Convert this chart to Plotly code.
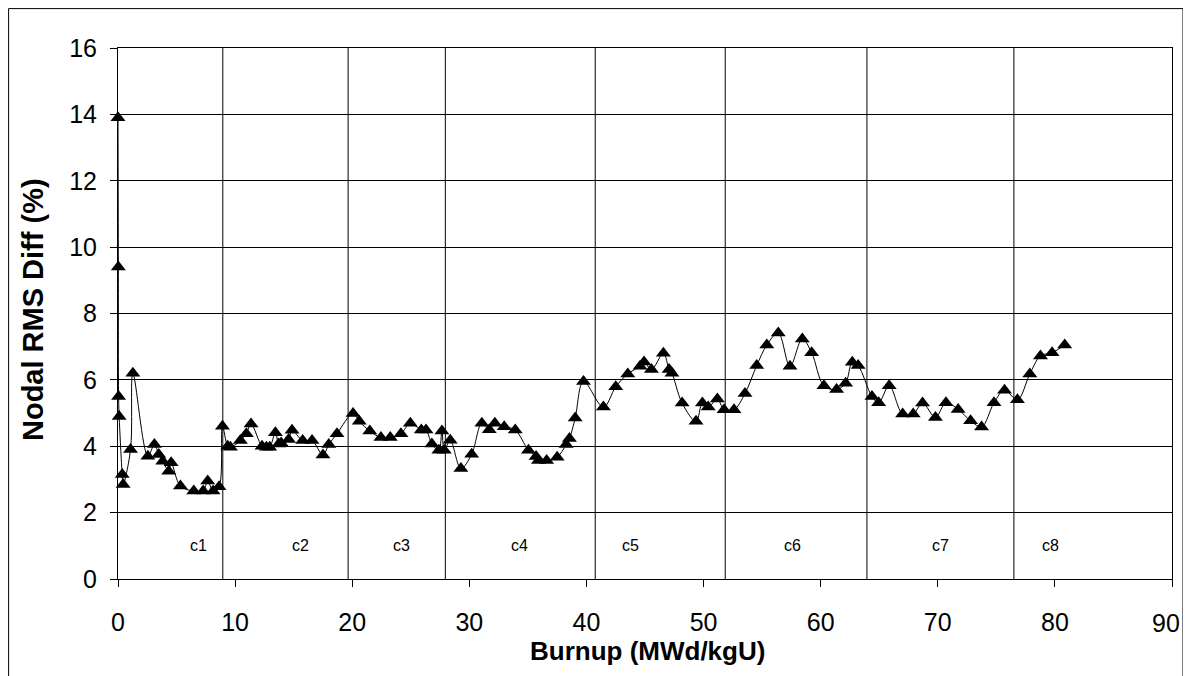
import plotly.graph_objects as go

# Data
burnup = [0, 0.03, 0.05, 0.1, 0.36, 0.44, 1.07, 1.27, 2.55, 3.11, 3.48, 3.82, 4.33, 4.54,
          5.33, 6.47, 7.27, 7.66, 8.12, 8.63, 8.92, 9.37, 9.6, 10.45, 10.96, 11.36, 12.3,
          12.67, 12.95, 13.44, 13.72, 13.93, 14.57, 14.86, 15.77, 16.57, 17.5, 18.0, 18.7,
          20.07, 20.6, 21.5, 22.45, 23.25, 24.16, 24.96, 25.9, 26.3, 26.8, 27.4, 27.66,
          27.86, 28.37, 29.28, 30.2, 31.07, 31.7, 32.18, 32.98, 33.92, 35.05, 35.7, 35.9,
          36.6, 37.5, 38.27, 38.55, 39.04, 39.75, 41.45, 42.5, 43.53, 44.58, 44.92, 45.55,
          46.57, 47.06, 47.3, 48.17, 49.36, 49.9, 50.4, 51.18, 51.75, 52.6, 53.54, 54.54,
          55.4, 56.38, 57.38, 58.43, 59.23, 60.28, 61.36, 62.13, 62.7, 63.2, 64.38, 64.95,
          65.85, 67.0, 67.9, 68.7, 69.8, 70.7, 71.74, 72.8, 73.74, 74.8, 75.7, 76.8, 77.86,
          78.77, 79.76, 80.84]
rms_diff = [13.9, 9.4, 5.5, 4.9, 3.15, 2.85, 3.9, 6.2, 3.7, 4.05, 3.75, 3.55, 3.25, 3.5,
            2.8, 2.65, 2.65, 2.95, 2.65, 2.78, 4.6, 4.0, 3.97, 4.17, 4.38, 4.67, 4.0,
            3.97, 3.97, 4.41, 4.07, 4.1, 4.2, 4.48, 4.17, 4.17, 3.74, 4.05, 4.38,
            4.99, 4.75, 4.46, 4.26, 4.26, 4.38, 4.69, 4.49, 4.49, 4.07, 3.88, 4.46,
            3.88, 4.18, 3.33, 3.76, 4.69, 4.5, 4.69, 4.59, 4.49, 3.88, 3.69, 3.57,
            3.57, 3.67, 4.05, 4.23, 4.85, 5.95, 5.18, 5.79, 6.18, 6.41, 6.54, 6.31,
            6.8, 6.31, 6.2, 5.3, 4.75, 5.3, 5.18, 5.42, 5.1, 5.1, 5.59, 6.43,
            7.05, 7.41, 6.41, 7.23, 6.82, 5.82, 5.71, 5.9, 6.53, 6.43, 5.5, 5.31,
            5.82, 4.97, 4.97, 5.3, 4.87, 5.31, 5.11, 4.77, 4.58, 5.31, 5.69, 5.4, 6.18,
            6.72, 6.82, 7.05]
assert len(burnup) == len(rms_diff)

cycle_bounds = [8.95, 19.65, 27.95, 40.75, 51.85, 63.95, 76.5]
cycle_names = ["c1", "c2", "c3", "c4", "c5", "c6", "c7", "c8"]
cycle_label_x = [6.9, 15.6, 24.2, 34.3, 43.8, 57.6, 70.2, 79.6]
cycle_label_y = 1.0

x_ticks = [0, 10, 20, 30, 40, 50, 60, 70, 80, 90]
x_tick_text = ["0", "10", "20", "30", "40", "50", "60", "70", "80", ""]
last_x_label = "90"
y_ticks = [0, 2, 4, 6, 8, 10, 12, 14, 16]

FONT = "Liberation Sans, Arial, sans-serif"

# page has an 8px body margin; plot area target (page px): left 118, right 1172, top 48, bottom 579
OFF = 8
W, H = 1191 - OFF, 676 - OFF
ML, MR, MT, MB = 118 - OFF, 19, 48 - OFF, 97
PW = W - ML - MR
PH = H - MT - MB


def px_x(p):
    return (p - 118) / PW


def px_y(p):
    return (579 - p) / PH


fig = go.Figure()
fig.add_trace(go.Scatter(
    x=burnup, y=rms_diff, mode="lines+markers",
    line=dict(color="black", width=1, shape="spline", smoothing=1.0),
    marker=dict(symbol="triangle-up", size=13, color="black"),
    showlegend=False, cliponaxis=False,
))

for b in cycle_bounds:
    fig.add_shape(type="line", xref="x", yref="y", x0=b, x1=b, y0=0, y1=16,
                  line=dict(color="black", width=1), layer="below")

for name, cx in zip(cycle_names, cycle_label_x):
    fig.add_annotation(x=cx, y=cycle_label_y, xref="x", yref="y", text=name,
                       showarrow=False, font=dict(family=FONT, size=16, color="black"))

# outer chart frame
fig.add_shape(type="rect", xref="paper", yref="paper",
              x0=px_x(8.6), x1=px_x(1183),
              y0=px_y(720), y1=px_y(8.6),
              line=dict(color="black", width=1), fillcolor="rgba(0,0,0,0)")

# last x tick label, pulled inside the frame as in the reference
fig.add_annotation(text=last_x_label, xref="paper", yref="paper",
                   x=px_x(1166), y=px_y(623), showarrow=False,
                   xanchor="center", yanchor="middle",
                   font=dict(family=FONT, size=25, color="black"))

fig.add_annotation(text="<b>Burnup (MWd/kgU)</b>", xref="paper", yref="paper",
                   x=px_x(647), y=px_y(651), showarrow=False,
                   xanchor="center", yanchor="middle",
                   font=dict(family=FONT, size=26, color="black"))
fig.add_annotation(text="<b>Nodal RMS Diff (%)</b>", xref="paper", yref="paper",
                   x=px_x(33), y=px_y(310), showarrow=False, textangle=-90,
                   xanchor="center", yanchor="middle",
                   font=dict(family=FONT, size=29, color="black"))

fig.update_layout(
    width=W, height=H,
    margin=dict(l=ML, r=MR, t=MT, b=MB, autoexpand=False),
    paper_bgcolor="white", plot_bgcolor="white",
    font=dict(family=FONT, color="black"),
)
fig.update_xaxes(range=[0, 90], tickvals=x_ticks, ticktext=x_tick_text,
                 ticks="outside", ticklen=7,
                 tickcolor="black", showline=True, linecolor="black", linewidth=1,
                 mirror=True, showgrid=False, zeroline=False,
                 tickfont=dict(family=FONT, size=25, color="black"),
                 ticklabelstandoff=14)
fig.update_yaxes(range=[0, 16], tickvals=y_ticks, ticks="outside", ticklen=7,
                 tickcolor="black", showline=True, linecolor="black", linewidth=1,
                 mirror=True, showgrid=True, gridcolor="black", gridwidth=1,
                 zeroline=False,
                 tickfont=dict(family=FONT, size=25, color="black"),
                 ticklabelstandoff=8)

fig.write_html("out.html")
